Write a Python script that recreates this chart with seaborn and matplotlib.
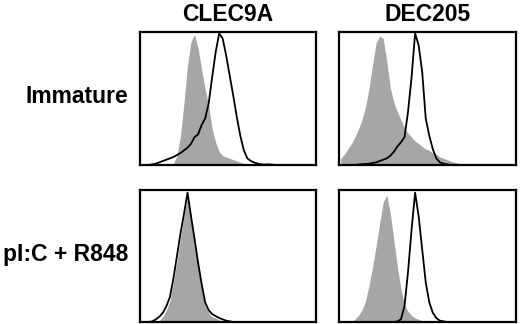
import numpy as np
import pandas as pd
import seaborn as sns
import matplotlib.pyplot as plt

# histogram heights (% of max) for 50 channels, 0-100 log scale
centers = np.arange(1, 100, 2)

def pad(start, vals):
    return [0] * start + vals + [0] * (50 - start - len(vals))

clec9a_imm_iso = pad(9, [1, 7, 22, 47, 75, 93, 98, 88, 72, 57, 45, 27, 17, 10, 7, 6, 5, 4, 3, 2, 1, 0.5])
clec9a_imm_stain = pad(3, [0.5, 1, 2, 3, 4, 5, 6, 7.5, 9, 11, 13, 16, 21, 23, 30, 35, 46, 66, 85, 99,
                           95, 82, 67, 52, 36, 22, 11, 5, 3, 1.8, 1, 0.5, 0.3, 0.5, 0.3])
dec205_imm_iso = pad(0, [5, 8, 12, 16, 21, 27, 34, 44, 58, 76, 92, 97, 95, 78, 58, 47, 40, 34, 28, 24,
                         21, 18, 16, 14, 12, 11, 9, 8, 6, 5, 4, 3, 2, 1.5, 1, 0.5])
dec205_imm_stain = pad(5, [0.3, 0.6, 0.8, 1, 1.5, 2, 3, 4, 5, 7, 10, 14, 17, 21, 40, 66, 99, 90, 70, 35,
                           22, 12, 5, 2, 1, 0.5])
clec9a_act_iso = pad(5, [1, 4, 9, 16, 30, 46, 63, 80, 95, 78, 60, 42, 25, 12, 7, 4, 3, 1.5, 0.5])
clec9a_act_stain = pad(3, [0.5, 2, 4, 7, 12, 19, 33, 50, 67, 82, 98, 80, 63, 45, 29, 15, 9, 6, 4.5, 3,
                           2, 1, 0.5])
dec205_act_iso = pad(3, [0.5, 2, 5, 9, 16, 28, 42, 58, 75, 91, 96, 82, 62, 42, 25, 13, 8, 5, 3, 2, 1, 0.5])
dec205_act_stain = pad(16, [0.5, 2, 12, 38, 70, 98, 80, 55, 30, 15, 7, 3, 1, 0.5])

markers = ["CLEC9A", "DEC205"]
conditions = ["Immature", "pI:C + R848"]
panels = [[(clec9a_imm_iso, clec9a_imm_stain), (dec205_imm_iso, dec205_imm_stain)],
          [(clec9a_act_iso, clec9a_act_stain), (dec205_act_iso, dec205_act_stain)]]

sns.set_style("white")
plt.rcParams["font.family"] = ["Liberation Sans", "DejaVu Sans"]

fig = plt.figure(figsize=(5.2, 3.24), dpi=100)
lefts = [140 / 520, 339 / 520]
widths = [176 / 520, 177 / 520]
bottoms = [1 - 165 / 324, 1 - 322 / 324]
heights = [133 / 324, 132 / 324]

for r in range(2):
    for c in range(2):
        ax = fig.add_axes([lefts[c], bottoms[r], widths[c], heights[r]])
        iso, stain = panels[r][c]
        df = pd.DataFrame({"channel": centers, "iso": iso, "stain": stain})
        sns.histplot(data=df, x="channel", weights="iso", bins=50, binrange=(0, 100),
                     element="poly", fill=True, color="#a6a6a6", alpha=1, linewidth=0, ax=ax)
        sns.histplot(data=df, x="channel", weights="stain", bins=50, binrange=(0, 100),
                     element="poly", fill=False, color="black", linewidth=1.3, ax=ax)
        ax.set_xlim(0, 100)
        ax.set_ylim(0, 100)
        ax.set_xticks([])
        ax.set_yticks([])
        ax.set_xlabel("")
        ax.set_ylabel("")
        for s in ax.spines.values():
            s.set_visible(True)
            s.set_color("black")
            s.set_linewidth(1.6)

for c, m in enumerate(markers):
    fig.text(lefts[c] + widths[c] / 2, 1 - 21 / 324, m, ha="center", va="baseline",
             fontsize=16.5, fontweight="bold", color="black")

label_y = [1 - 103 / 324, 1 - 261 / 324]
for r, cond in enumerate(conditions):
    fig.text(128 / 520, label_y[r], cond, ha="right", va="baseline",
             fontsize=16.5, fontweight="bold", color="black")

fig.savefig("out.png", dpi=100)
